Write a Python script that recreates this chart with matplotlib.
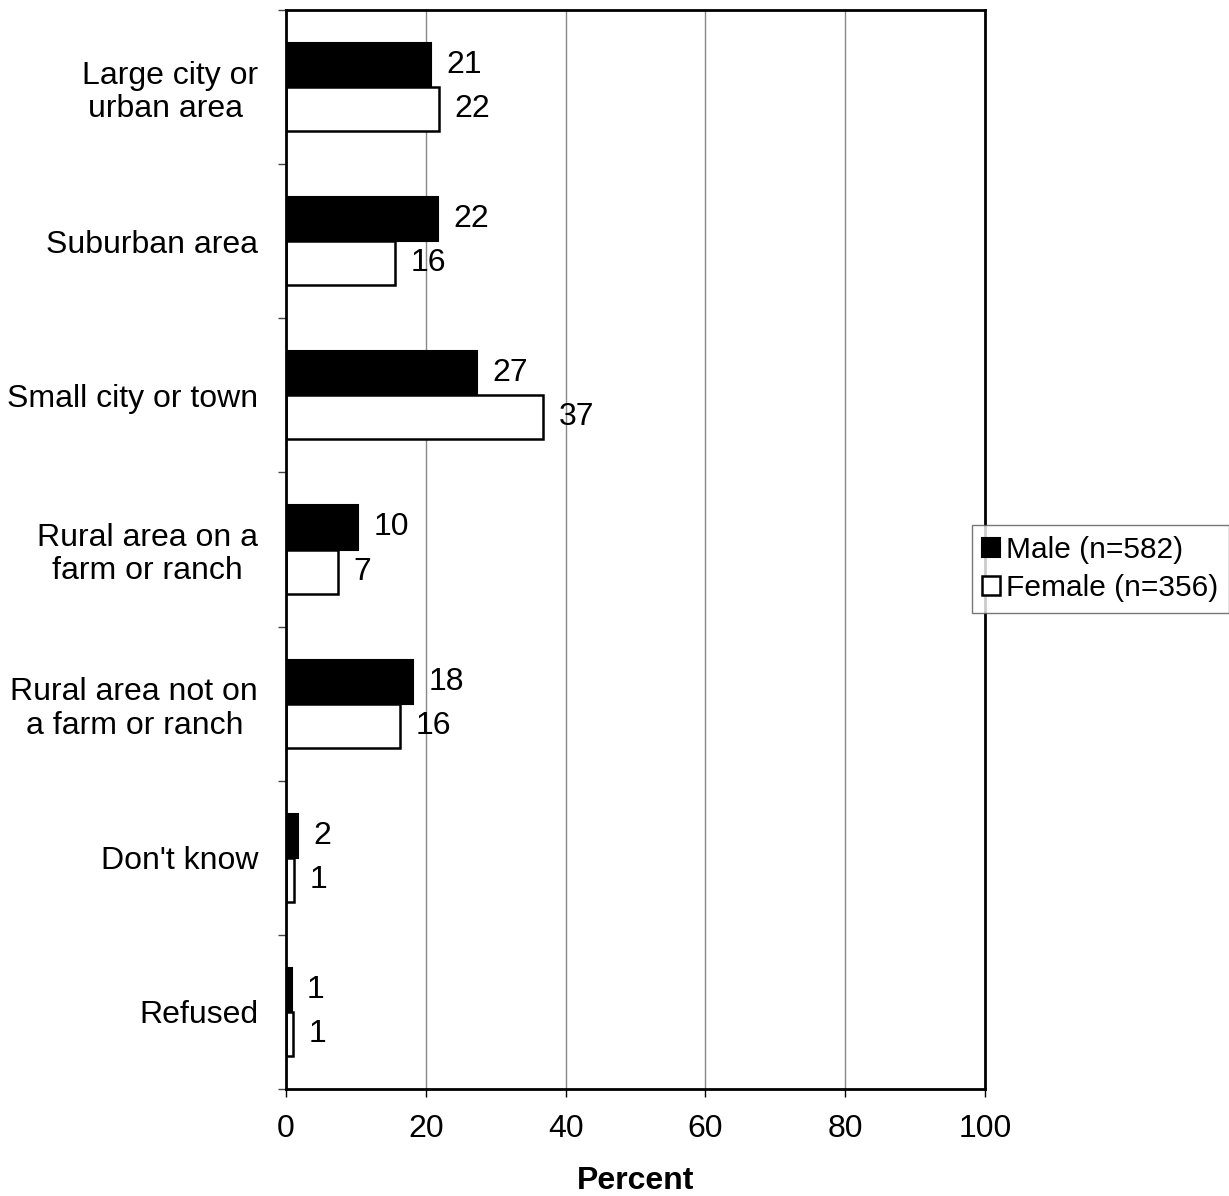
import numpy as np
import matplotlib.pyplot as plt

plt.rcParams['font.family'] = ['Liberation Sans', 'DejaVu Sans']

categories = ['Large city or\nurban area ', 'Suburban area', 'Small city or town',
              'Rural area on a\nfarm or ranch', 'Rural area not on\na farm or ranch',
              "Don't know", 'Refused']
male = [20.7, 21.7, 27.3, 10.3, 18.2, 1.7, 0.8]
female = [21.9, 15.6, 36.8, 7.4, 16.3, 1.2, 1.0]
series_names = ['Male (n=582)', 'Female (n=356)']

fig = plt.figure(figsize=(12.29, 11.96), dpi=100)
ax = fig.add_axes([286/1229, 1 - 1089/1196, 699/1229, 1079/1196])

y = np.arange(len(categories))
h = 0.286
bm = ax.barh(y - h/2, male, height=h, color='black', edgecolor='black', linewidth=1.5,
             label=series_names[0], zorder=3)
bf = ax.barh(y + h/2, female, height=h, color='white', edgecolor='black', linewidth=1.8,
             label=series_names[1], zorder=3)

for bars, vals in ((bm, male), (bf, female)):
    for b, v in zip(bars, vals):
        ax.annotate(f'{v:.0f}', (b.get_width(), b.get_y() + b.get_height()/2),
                    xytext=(11, 0), textcoords='offset points',
                    ha='left', va='center', fontsize=23)

ax.set_xlim(0, 100)
ax.set_ylim(len(categories) - 0.5, -0.5)
ax.set_xticks([0, 20, 40, 60, 80, 100])
ax.tick_params(axis='x', labelsize=23, length=6, width=1, direction='out', pad=12)
ax.set_yticks(y)
ax.set_yticklabels(categories, fontsize=23, multialignment='center', linespacing=1.15)
ax.tick_params(axis='y', length=0, pad=20)
ax.set_yticks(np.arange(len(categories) + 1) - 0.5, minor=True)
ax.tick_params(axis='y', which='minor', length=6, width=1, color='#444444')
ax.xaxis.grid(True, color='#888888', linewidth=1, zorder=0)
ax.set_axisbelow(True)
for s in ax.spines.values():
    s.set_linewidth(2)
    s.set_color('black')
    s.set_zorder(4)

ax.set_xlabel('Percent', fontsize=23, fontweight='bold', labelpad=16)

leg = fig.legend(handles=[bm, bf], loc='center left', bbox_to_anchor=(972/1229, 1 - 569/1196),
                 fontsize=21.5, frameon=True, fancybox=False, edgecolor='#555555',
                 handlelength=0.6, handleheight=0.6, handletextpad=0.2,
                 borderpad=0.35, labelspacing=0.35, borderaxespad=0)
leg.get_frame().set_linewidth(1)

fig.savefig('out.png', dpi=100)
